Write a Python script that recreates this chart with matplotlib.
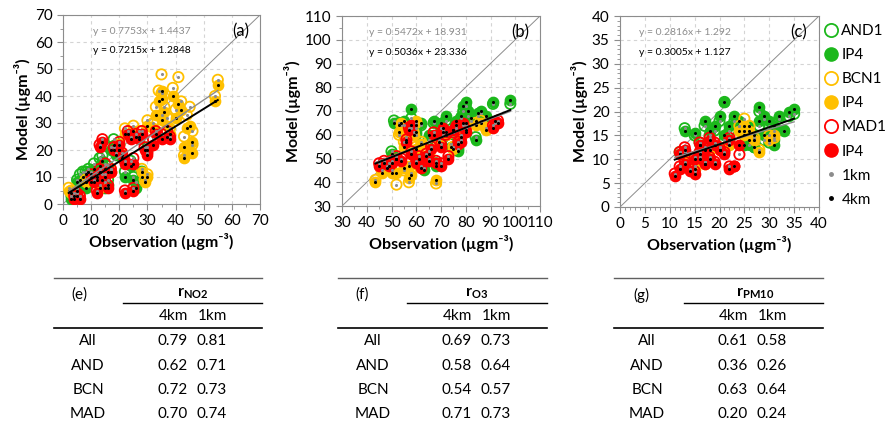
import matplotlib
matplotlib.use("Agg")
import matplotlib.pyplot as plt
import numpy as np
from matplotlib.lines import Line2D
from matplotlib.ticker import MultipleLocator

plt.rcParams['font.family'] = ['Lato', 'DejaVu Sans']
plt.rcParams['mathtext.fontset'] = 'custom'
plt.rcParams['mathtext.rm'] = 'Lato'
plt.rcParams['mathtext.bf'] = 'Lato:bold'
plt.rcParams['mathtext.it'] = 'Lato:italic'

GREEN = '#1cb81c'
ORANGE = '#ffc000'
RED = '#ff0000'

# ---- NO2 (a) ----
no2_and_obs = [3, 4, 5, 5, 6, 7, 8, 8, 9, 10, 10, 11, 12, 13, 14, 14, 15, 16, 16, 17, 18, 19, 20, 21, 22, 24, 25, 26, 28, 30]
no2_and_4km = [2, 3, 5, 8, 9, 10, 11, 6, 12, 8, 11, 13, 10, 14, 16, 9, 6, 7, 12, 20, 22, 18, 20, 17, 10, 14, 9, 6, 10, 20]
no2_and_1km = [3, 4, 6, 9, 11, 12, 12, 8, 13, 10, 12, 15, 11, 17, 18, 11, 8, 9, 14, 21, 24, 19, 22, 18, 12, 16, 10, 8, 12, 21]
no2_bcn_obs = [2, 3, 8, 13, 17, 20, 22, 25, 27, 28, 29, 30, 30, 32, 33, 34, 35, 35, 35, 36, 37, 38, 39, 40, 41, 42, 43, 43, 44, 45, 46, 46, 54, 55]
no2_bcn_4km = [5, 4, 8, 6, 12, 20, 26, 27, 25, 12, 8, 29, 10, 28, 33, 38, 42, 39, 31, 34, 29, 26, 40, 32, 37, 35, 21, 17, 28, 29, 23, 19, 38, 44]
no2_bcn_1km = [6, 5, 9, 7, 13, 22, 28, 29, 27, 13, 9, 31, 11, 30, 36, 42, 48, 41, 33, 36, 32, 28, 43, 35, 47, 38, 25, 18, 33, 36, 27, 22, 40, 46]
no2_mad_obs = [4, 5, 6, 10, 11, 12, 12, 13, 13, 14, 15, 15, 16, 17, 18, 20, 21, 22, 22, 23, 24, 25, 25, 26, 27, 28, 29, 30, 32, 33, 35, 37, 38]
no2_mad_4km = [2, 3, 2, 10, 8, 4, 9, 12, 21, 23, 10, 13, 6, 12, 20, 22, 18, 4, 15, 26, 24, 5, 15, 25, 24, 26, 20, 18, 22, 26, 24, 25, 24]
no2_mad_1km = [3, 4, 3, 11, 9, 5, 10, 13, 22, 24, 11, 15, 7, 13, 21, 23, 19, 5, 16, 27, 25, 6, 17, 26, 25, 27, 21, 19, 24, 27, 26, 27, 25]

# ---- O3 (b) ----
o3_and_obs = [50, 51, 53, 55, 58, 60, 60, 62, 63, 65, 67, 68, 70, 71, 72, 74, 75, 76, 77, 78, 79, 80, 80, 81, 82, 84, 84, 85, 86, 88, 91, 98]
o3_and_4km = [52, 65, 64, 66, 71, 61, 64, 65, 45, 60, 66, 47, 65, 61, 68, 55, 62, 66, 53, 68, 72, 74, 65, 70, 67, 66, 58, 69, 70, 68, 74, 74.5]
o3_and_1km = [53, 66, 65, 64, 67, 60, 63, 64, 46, 58, 65, 48, 63, 60, 66, 56, 61, 64, 54, 67, 70, 72, 64, 68, 66, 65, 59, 68, 69, 67, 73, 73]
o3_bcn_obs = [43.5, 46, 48, 50, 52, 52, 53, 54, 55, 55, 56, 57, 57, 58, 59, 60, 60, 62, 65, 68, 69, 72, 75, 78, 80, 84, 86, 88]
o3_bcn_4km = [40, 44, 46, 44, 44, 50, 61, 65, 55, 46, 58, 42, 47, 43, 60, 54, 66, 56, 52, 41, 57, 60, 54, 59, 62, 64, 65, 62]
o3_bcn_1km = [41, 45, 47, 45, 39, 51, 60, 64, 57, 45, 59, 40, 48, 44, 61, 55, 65, 57, 53, 39.5, 58, 61, 55, 60, 63, 65, 66, 63]
o3_mad_obs = [45, 47, 49, 50, 52, 54, 56, 57, 58, 58, 60, 61, 62, 64, 65, 66, 67, 68, 70, 70, 71, 72, 73, 75, 76, 77, 78, 79, 80, 91, 92, 93]
o3_mad_4km = [47, 48, 47, 48, 50, 49, 57, 62, 64, 52, 48, 50, 46, 51, 49, 54, 60, 48, 55, 47, 63, 61, 50, 62, 64, 56, 57, 65, 61, 63, 66, 65]
o3_mad_1km = [48, 49, 48, 49, 51, 50, 58, 63, 63, 53, 49, 51, 47, 52, 50, 55, 61, 49, 56, 48, 62, 60, 51, 61, 63, 57, 58, 64, 62, 64, 65, 66]

# ---- PM10 (c) ----
pm_and_obs = [12, 13, 15, 16, 17, 18, 19, 20, 21, 21, 22, 22, 23, 24, 25, 25, 26, 26, 27, 27, 28, 28, 29, 29, 30, 30, 31, 31, 32, 33, 34, 35]
pm_and_4km = [11, 16, 15.5, 13, 18, 16, 17, 19, 22, 15, 17, 14, 19, 18, 16, 13, 17, 14, 12.5, 15, 18, 21, 15, 19, 18, 14, 17, 13, 19, 16, 20, 20.5]
pm_and_1km = [11.5, 16.5, 15, 13.5, 17, 15, 16, 18, 22, 14, 16, 13, 18, 17, 15, 13, 16, 13, 12.5, 14, 17, 20, 14, 18.5, 17, 13.5, 16, 14, 18.5, 16, 19, 19.5]
pm_bcn_obs = [13, 15, 16, 17, 18, 20, 22, 24, 25, 25, 26, 27, 28, 30, 31]
pm_bcn_4km = [11, 8, 10, 9, 12, 12, 13, 16, 15, 17, 16, 14, 11.6, 14, 15]
pm_bcn_1km = [11.5, 8.5, 10.5, 9.5, 12.5, 12.5, 13.5, 17, 16, 18.5, 17, 14.5, 12, 15, 14.5]
pm_mad_obs = [11, 12, 12, 13, 13, 14, 15, 15, 16, 16, 17, 17, 18, 18, 19, 19, 20, 21, 22, 22, 23, 24]
pm_mad_4km = [6.5, 8, 11, 9, 12, 7.5, 7, 10, 11, 13, 12, 9, 14, 10, 13, 9, 12, 11, 8, 14, 8.5, 13]
pm_mad_1km = [7, 8.5, 11.5, 9.5, 12.5, 8, 7.5, 10.5, 11.5, 13.5, 12.5, 9.5, 14.5, 10.5, 13.5, 9.5, 12.5, 11.5, 8.5, 14.5, 8.5, 11]

eq_1km = ['y = 0.7753x + 1.4437', 'y = 0.5472x + 18.931', 'y = 0.2816x + 1.292']
eq_4km = ['y = 0.7215x + 1.2848', 'y = 0.5036x + 23.336', 'y = 0.3005x + 1.127']

# correlation tables
row_names = ['All', 'AND', 'BCN', 'MAD']
r_no2_4km = ['0.79', '0.62', '0.72', '0.70']
r_no2_1km = ['0.81', '0.71', '0.73', '0.74']
r_o3_4km = ['0.69', '0.58', '0.54', '0.71']
r_o3_1km = ['0.73', '0.64', '0.57', '0.73']
r_pm_4km = ['0.61', '0.36', '0.63', '0.20']
r_pm_1km = ['0.58', '0.26', '0.64', '0.24']

panels = [
    dict(rect=[63, 15, 197, 189], lim=(0, 70), major=10, minor=5, tag='(a)',
         st=[(no2_and_obs, no2_and_4km, no2_and_1km, GREEN),
             (no2_bcn_obs, no2_bcn_4km, no2_bcn_1km, ORANGE),
             (no2_mad_obs, no2_mad_4km, no2_mad_1km, RED)], eqx=0.15),
    dict(rect=[342, 16, 198, 190], lim=(30, 110), major=10, minor=5, tag='(b)',
         st=[(o3_and_obs, o3_and_4km, o3_and_1km, GREEN),
             (o3_bcn_obs, o3_bcn_4km, o3_bcn_1km, ORANGE),
             (o3_mad_obs, o3_mad_4km, o3_mad_1km, RED)], eqx=0.136),
    dict(rect=[620, 16, 199, 191], lim=(0, 40), major=5, minor=1, tag='(c)',
         st=[(pm_and_obs, pm_and_4km, pm_and_1km, GREEN),
             (pm_bcn_obs, pm_bcn_4km, pm_bcn_1km, ORANGE),
             (pm_mad_obs, pm_mad_4km, pm_mad_1km, RED)], eqx=0.095),
]

W, H = 889, 422
fig = plt.figure(figsize=(W / 100, H / 100), dpi=100)

for i, p in enumerate(panels):
    l, t, w, h = p['rect']
    ax = fig.add_axes([l / W, 1 - (t + h) / H, w / W, h / H])
    lo, hi = p['lim']
    ax.set_xlim(lo, hi)
    ax.set_ylim(lo, hi)
    ax.xaxis.set_major_locator(MultipleLocator(p['major']))
    ax.yaxis.set_major_locator(MultipleLocator(p['major']))
    ax.xaxis.set_minor_locator(MultipleLocator(p['minor']))
    ax.yaxis.set_minor_locator(MultipleLocator(p['minor']))
    ax.grid(True, which='major', ls=(0, (3, 3)), color='#d4d4d4', lw=0.8)
    ax.set_axisbelow(True)
    for s in ax.spines.values():
        s.set_color('#8c8c8c')
        s.set_linewidth(0.8)
    ax.tick_params(which='both', colors='#8c8c8c', labelcolor='black', labelsize=11)
    ax.tick_params(which='major', length=4)
    ax.tick_params(which='minor', length=2.5)
    ax.set_xlabel('Observation (µgm⁻³)', fontsize=11.5, fontweight='bold', labelpad=3)
    ax.set_ylabel('Model (µgm⁻³)', fontsize=11.5, fontweight='bold', labelpad=3)

    # 1:1 line
    ax.plot([lo, hi], [lo, hi], color='#8c8c8c', lw=0.7, zorder=2)

    for obs, m4, m1, col in p['st']:
        ax.scatter(obs, m1, s=55, facecolors='none', edgecolors=col, linewidths=1.3, zorder=3)
        ax.scatter(obs, m4, s=55, color=col, edgecolors=col, zorder=3)

    all_obs = np.concatenate([np.array(s[0], float) for s in p['st']])
    all_4 = np.concatenate([np.array(s[1], float) for s in p['st']])
    all_1 = np.concatenate([np.array(s[2], float) for s in p['st']])
    ax.scatter(all_obs, all_1, s=5, color='#8c8c8c', zorder=4, linewidths=0)
    ax.scatter(all_obs, all_4, s=5, color='black', zorder=4, linewidths=0)

    xs = np.array([all_obs.min(), all_obs.max()])
    k1, b1 = np.polyfit(all_obs, all_1, 1)
    k4, b4 = np.polyfit(all_obs, all_4, 1)
    ax.plot(xs, k1 * xs + b1, color='#8c8c8c', lw=1.0, zorder=5)
    ax.plot(xs, k4 * xs + b4, color='black', lw=1.4, zorder=5)

    ax.text(p['eqx'], 0.915, eq_1km[i], transform=ax.transAxes, fontsize=7.5,
            color='#8c8c8c', va='center', ha='left')
    ax.text(p['eqx'], 0.81, eq_4km[i], transform=ax.transAxes, fontsize=7.5,
            color='black', va='center', ha='left')
    ax.text(0.9, 0.915, p['tag'], transform=ax.transAxes, fontsize=12,
            va='center', ha='center')

# legend
handles = [
    Line2D([], [], ls='none', marker='o', ms=9.5, mfc='none', mec=GREEN, mew=1.3),
    Line2D([], [], ls='none', marker='o', ms=9.5, mfc=GREEN, mec=GREEN),
    Line2D([], [], ls='none', marker='o', ms=9.5, mfc='none', mec=ORANGE, mew=1.3),
    Line2D([], [], ls='none', marker='o', ms=9.5, mfc=ORANGE, mec=ORANGE),
    Line2D([], [], ls='none', marker='o', ms=9.5, mfc='none', mec=RED, mew=1.3),
    Line2D([], [], ls='none', marker='o', ms=9.5, mfc=RED, mec=RED),
    Line2D([], [], ls='none', marker='o', ms=2.5, mfc='#8c8c8c', mec='#8c8c8c'),
    Line2D([], [], ls='none', marker='o', ms=2.5, mfc='black', mec='black'),
]
labels = ['AND1', 'IP4', 'BCN1', 'IP4', 'MAD1', 'IP4', '1km', '4km']
fig.legend(handles, labels, loc='upper left', bbox_to_anchor=(817 / W, 1 - 18 / H),
           frameon=False, fontsize=11, handlelength=1.0, handletextpad=0.2,
           labelspacing=0.66, borderaxespad=0)

# tables
tables = [
    dict(x0=54, x1=262, sub=123, tag='(e)', tagx=79, rx=193, c4=173, c1=212, lab=88,
         title='$\\mathbf{r_{NO2}}$', v4=r_no2_4km, v1=r_no2_1km),
    dict(x0=338, x1=547, sub=407, tag='(f)', tagx=362, rx=477, c4=457, c1=496, lab=373,
         title='$\\mathbf{r_{O3}}$', v4=r_o3_4km, v1=r_o3_1km),
    dict(x0=614, x1=823, sub=684, tag='(g)', tagx=641, rx=755, c4=733, c1=772, lab=647,
         title='$\\mathbf{r_{PM10}}$', v4=r_pm_4km, v1=r_pm_1km),
]


def fy(py):
    return 1 - py / H


for tb in tables:
    fig.add_artist(Line2D([tb['x0'] / W, tb['x1'] / W], [fy(278)] * 2, color='#606060', lw=1.0))
    fig.add_artist(Line2D([tb['sub'] / W, tb['x1'] / W], [fy(303)] * 2, color='black', lw=1.0))
    fig.add_artist(Line2D([tb['x0'] / W, tb['x1'] / W], [fy(328)] * 2, color='black', lw=1.2))
    fig.text(tb['tagx'] / W, fy(295), tb['tag'], fontsize=11, ha='center', va='center')
    fig.text(tb['rx'] / W, fy(294), tb['title'], fontsize=11.5, ha='center', va='center')
    fig.text(tb['c4'] / W, fy(316), '4km', fontsize=11, ha='center', va='center')
    fig.text(tb['c1'] / W, fy(316), '1km', fontsize=11, ha='center', va='center')
    for j, name in enumerate(row_names):
        yy = fy(341 + j * 24.5)
        fig.text(tb['lab'] / W, yy, name, fontsize=11, ha='center', va='center')
        fig.text(tb['c4'] / W, yy, tb['v4'][j], fontsize=11, ha='center', va='center')
        fig.text(tb['c1'] / W, yy, tb['v1'][j], fontsize=11, ha='center', va='center')

fig.savefig('out.png', dpi=100)
